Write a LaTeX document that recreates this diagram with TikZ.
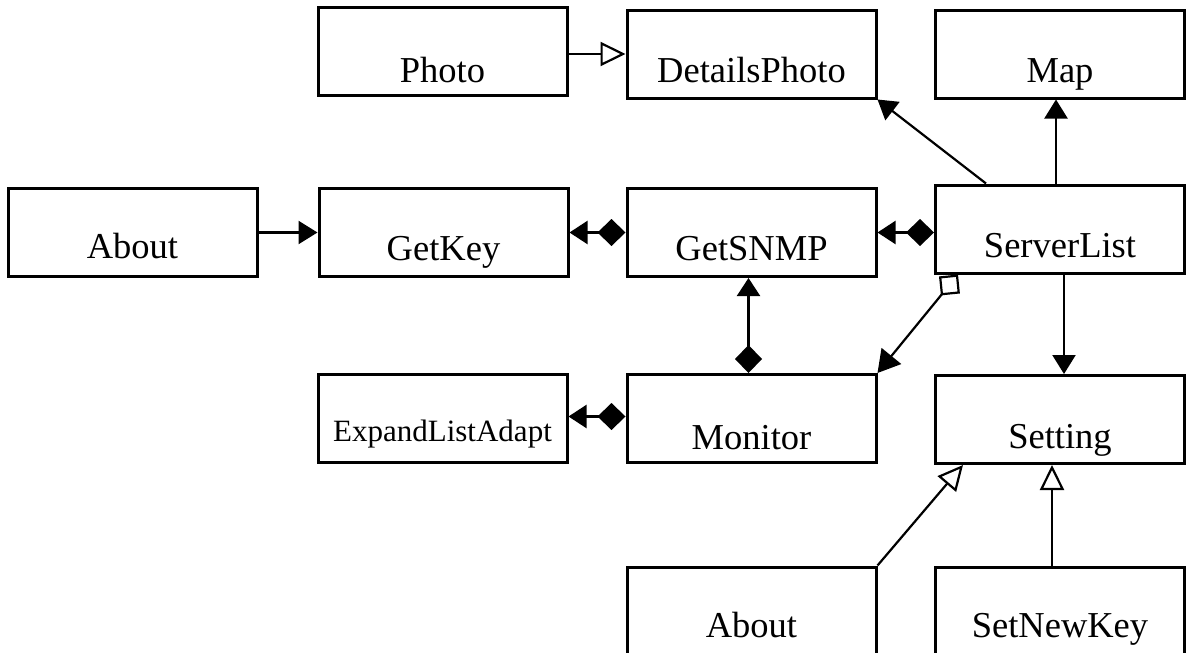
\documentclass[tikz,border=0pt]{standalone}
\usepackage{fontspec}
\setmainfont{Liberation Serif}
\usetikzlibrary{arrows.meta}

% box label: fixed height/depth so every baseline sits the same distance below the centre
\newcommand\lbl[2][-20pt]{\raisebox{#1}[22pt][6pt]{#2}}

\tikzset{
  classbox/.style={draw, line width=3pt, minimum width=249pt, minimum height=88pt,
                   inner sep=0pt, font=\fontsize{36.5}{40}\selectfont},
  link/.style={line width=2.2pt},
  assoc/.style={link, -{Triangle[length=19pt,width=23pt]}},
  inherit/.style={link, -{Triangle[open,length=25pt,width=24pt,fill=white]}},
  compose/.style={link, {Diamond[length=28pt,width=27pt]}-{Triangle[length=18pt,width=23pt]}},
  aggregate/.style={link, {Diamond[open,length=27pt,width=27pt,fill=white]}-{Triangle[length=22pt,width=25pt]}},
}

\begin{document}
\begin{tikzpicture}[x=1pt,y=-1pt]
\useasboundingbox (0,0) rectangle (1192,653);

% classes
\node[classbox] (Photo)        at (442.5,51.5)  {\lbl[-23pt]{Photo}};
\node[classbox] (DetailsPhoto) at (751.5,54)    {\lbl{DetailsPhoto}};
\node[classbox] (Map)          at (1060,54)     {\lbl{Map}};
\node[classbox] (AboutA)       at (132.5,232.5) {\lbl[-18pt]{About}};
\node[classbox] (GetKey)       at (443.5,232.5) {\lbl{GetKey}};
\node[classbox] (GetSNMP)      at (751.5,232.5) {\lbl{GetSNMP}};
\node[classbox] (ServerList)   at (1060,229)    {\lbl{ServerList}};
\node[classbox, font=\fontsize{31}{35}\selectfont]
                (Expand)       at (442.5,418.5) {\lbl[-15pt]{ExpandListAdapt}};
\node[classbox] (Monitor)      at (751.5,418.5) {\lbl[-23pt]{Monitor}};
\node[classbox] (Setting)      at (1060,419.5)  {\lbl[-21pt]{Setting}};
\node[classbox] (AboutB)       at (751.5,611)   {\lbl[-18pt]{About}};
\node[classbox] (SetNewKey)    at (1060,611)    {\lbl[-18pt]{SetNewKey}};

% relations
\draw[inherit] (Photo.east |- DetailsPhoto.west) -- (DetailsPhoto.west);
\draw[assoc] ([xshift=52pt]ServerList.north west) -- (DetailsPhoto.south east);
\draw[assoc] ([xshift=-4pt]ServerList.north) -- ([xshift=-4pt]Map.south);
\draw[assoc] (AboutA.east) -- (GetKey.west);
\draw[compose] (GetSNMP.west) -- (GetKey.east);
\draw[compose] (ServerList.west |- GetSNMP.east) -- (GetSNMP.east);
\draw[compose] ([xshift=-3pt]Monitor.north) -- ([xshift=-3pt]GetSNMP.south);
\draw[compose] ([yshift=2pt]Monitor.west) -- ([yshift=2pt]Expand.east);
\draw[aggregate] ([xshift=24pt]ServerList.south west) -- (Monitor.north east);
\draw[assoc] ([xshift=4pt]ServerList.south) -- ([xshift=4pt]Setting.north);
\draw[inherit] ([xshift=-8pt]SetNewKey.north) -- ([xshift=-8pt]Setting.south);
\draw[inherit] (AboutB.north east) -- ([xshift=29pt]Setting.south west);
\end{tikzpicture}
\end{document}
